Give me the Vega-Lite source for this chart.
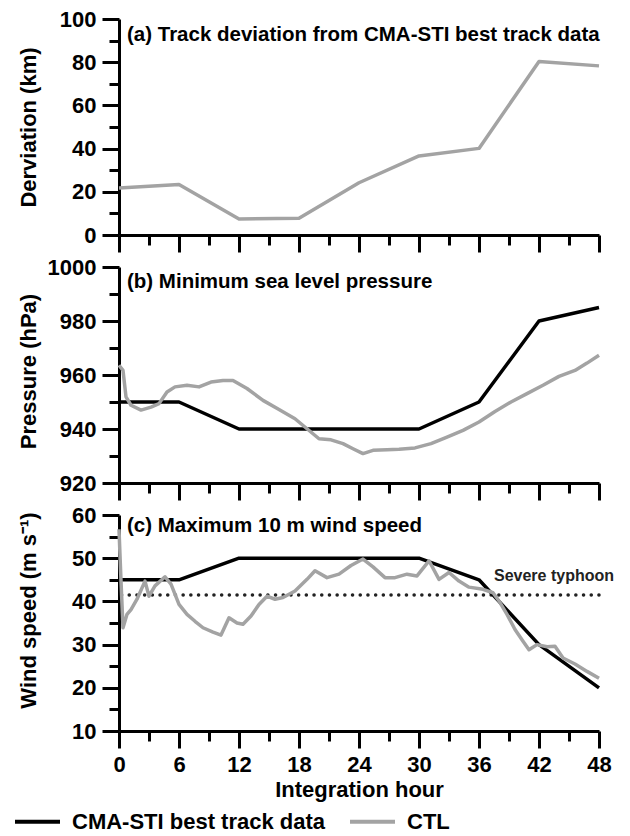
{
  "$schema": "https://vega.github.io/schema/vega-lite/v6.json",
  "background": "white",
  "padding": {"left": 13, "top": 8, "right": 5, "bottom": 0},
  "autosize": {"type": "pad"},
  "config": {
    "font": "Liberation Sans",
    "view": {"stroke": null},
    "axis": {
      "grid": false,
      "domainColor": "black",
      "domainWidth": 3,
      "tickColor": "black",
      "tickWidth": 3,
      "labelFont": "Liberation Sans",
      "labelFontSize": 22,
      "labelFontWeight": "bold",
      "labelColor": "black",
      "labelFlush": false,
      "labelOverlap": false,
      "labelPadding": 6,
      "titleFont": "Liberation Sans",
      "titleFontSize": 22,
      "titleFontWeight": "bold",
      "titleColor": "black"
    }
  },
  "datasets": {
    "track": [
      {"hour": 0, "value": 21.8, "series": "CTL"},
      {"hour": 6, "value": 23.4, "series": "CTL"},
      {"hour": 12, "value": 7.4, "series": "CTL"},
      {"hour": 18, "value": 7.7, "series": "CTL"},
      {"hour": 24, "value": 24.2, "series": "CTL"},
      {"hour": 30, "value": 36.6, "series": "CTL"},
      {"hour": 36, "value": 40.1, "series": "CTL"},
      {"hour": 42, "value": 80.3, "series": "CTL"},
      {"hour": 48, "value": 78.3, "series": "CTL"}
    ],
    "pressure": [
      {"hour": 0, "value": 950, "series": "CMA-STI best track data"},
      {"hour": 6, "value": 950, "series": "CMA-STI best track data"},
      {"hour": 12, "value": 940, "series": "CMA-STI best track data"},
      {"hour": 18, "value": 940, "series": "CMA-STI best track data"},
      {"hour": 24, "value": 940, "series": "CMA-STI best track data"},
      {"hour": 30, "value": 940, "series": "CMA-STI best track data"},
      {"hour": 36, "value": 950, "series": "CMA-STI best track data"},
      {"hour": 42, "value": 980, "series": "CMA-STI best track data"},
      {"hour": 48, "value": 985, "series": "CMA-STI best track data"},
      {"hour": 0, "value": 963.6, "series": "CTL"},
      {"hour": 0.4, "value": 961.7, "series": "CTL"},
      {"hour": 0.7, "value": 951.9, "series": "CTL"},
      {"hour": 1.2, "value": 948.8, "series": "CTL"},
      {"hour": 2.2, "value": 947.0, "series": "CTL"},
      {"hour": 3.2, "value": 948.1, "series": "CTL"},
      {"hour": 4.0, "value": 949.4, "series": "CTL"},
      {"hour": 4.8, "value": 953.7, "series": "CTL"},
      {"hour": 5.6, "value": 955.6, "series": "CTL"},
      {"hour": 6.8, "value": 956.2, "series": "CTL"},
      {"hour": 8.0, "value": 955.6, "series": "CTL"},
      {"hour": 9.2, "value": 957.4, "series": "CTL"},
      {"hour": 10.4, "value": 958.0, "series": "CTL"},
      {"hour": 11.4, "value": 958.0, "series": "CTL"},
      {"hour": 12.8, "value": 955.0, "series": "CTL"},
      {"hour": 14.4, "value": 950.6, "series": "CTL"},
      {"hour": 16.0, "value": 947.2, "series": "CTL"},
      {"hour": 17.6, "value": 943.8, "series": "CTL"},
      {"hour": 18.8, "value": 940.1, "series": "CTL"},
      {"hour": 20.0, "value": 936.4, "series": "CTL"},
      {"hour": 21.2, "value": 936.0, "series": "CTL"},
      {"hour": 22.4, "value": 934.6, "series": "CTL"},
      {"hour": 23.4, "value": 932.7, "series": "CTL"},
      {"hour": 24.4, "value": 930.9, "series": "CTL"},
      {"hour": 25.4, "value": 932.1, "series": "CTL"},
      {"hour": 26.8, "value": 932.3, "series": "CTL"},
      {"hour": 28.0, "value": 932.5, "series": "CTL"},
      {"hour": 29.6, "value": 933.0, "series": "CTL"},
      {"hour": 31.2, "value": 934.6, "series": "CTL"},
      {"hour": 32.8, "value": 937.0, "series": "CTL"},
      {"hour": 34.4, "value": 939.5, "series": "CTL"},
      {"hour": 36.0, "value": 942.6, "series": "CTL"},
      {"hour": 37.6, "value": 946.5, "series": "CTL"},
      {"hour": 39.2, "value": 950.0, "series": "CTL"},
      {"hour": 40.8, "value": 953.1, "series": "CTL"},
      {"hour": 42.4, "value": 956.2, "series": "CTL"},
      {"hour": 44.0, "value": 959.5, "series": "CTL"},
      {"hour": 45.6, "value": 961.7, "series": "CTL"},
      {"hour": 46.8, "value": 964.4, "series": "CTL"},
      {"hour": 48.0, "value": 967.3, "series": "CTL"}
    ],
    "wind": [
      {"hour": 0, "value": 45, "series": "CMA-STI best track data"},
      {"hour": 6, "value": 45, "series": "CMA-STI best track data"},
      {"hour": 12, "value": 50, "series": "CMA-STI best track data"},
      {"hour": 18, "value": 50, "series": "CMA-STI best track data"},
      {"hour": 24, "value": 50, "series": "CMA-STI best track data"},
      {"hour": 30, "value": 50, "series": "CMA-STI best track data"},
      {"hour": 36, "value": 45, "series": "CMA-STI best track data"},
      {"hour": 42, "value": 30, "series": "CMA-STI best track data"},
      {"hour": 48, "value": 20, "series": "CMA-STI best track data"},
      {"hour": 0.0, "value": 56.7, "series": "CTL"},
      {"hour": 0.2, "value": 44.7, "series": "CTL"},
      {"hour": 0.4, "value": 33.9, "series": "CTL"},
      {"hour": 0.8, "value": 37.0, "series": "CTL"},
      {"hour": 1.2, "value": 38.1, "series": "CTL"},
      {"hour": 1.8, "value": 40.5, "series": "CTL"},
      {"hour": 2.6, "value": 44.7, "series": "CTL"},
      {"hour": 3.0, "value": 41.2, "series": "CTL"},
      {"hour": 3.6, "value": 43.6, "series": "CTL"},
      {"hour": 4.6, "value": 45.7, "series": "CTL"},
      {"hour": 5.2, "value": 44.0, "series": "CTL"},
      {"hour": 6.0, "value": 39.3, "series": "CTL"},
      {"hour": 6.8, "value": 37.0, "series": "CTL"},
      {"hour": 7.6, "value": 35.4, "series": "CTL"},
      {"hour": 8.4, "value": 33.9, "series": "CTL"},
      {"hour": 9.4, "value": 32.9, "series": "CTL"},
      {"hour": 10.2, "value": 32.2, "series": "CTL"},
      {"hour": 11.0, "value": 36.2, "series": "CTL"},
      {"hour": 11.8, "value": 35.0, "series": "CTL"},
      {"hour": 12.4, "value": 34.7, "series": "CTL"},
      {"hour": 13.2, "value": 36.6, "series": "CTL"},
      {"hour": 14.0, "value": 39.3, "series": "CTL"},
      {"hour": 14.8, "value": 41.2, "series": "CTL"},
      {"hour": 15.6, "value": 40.5, "series": "CTL"},
      {"hour": 16.4, "value": 40.9, "series": "CTL"},
      {"hour": 17.6, "value": 42.4, "series": "CTL"},
      {"hour": 18.8, "value": 45.1, "series": "CTL"},
      {"hour": 19.6, "value": 47.1, "series": "CTL"},
      {"hour": 20.8, "value": 45.5, "series": "CTL"},
      {"hour": 22.0, "value": 46.3, "series": "CTL"},
      {"hour": 23.2, "value": 48.3, "series": "CTL"},
      {"hour": 24.4, "value": 49.8, "series": "CTL"},
      {"hour": 25.4, "value": 48.0, "series": "CTL"},
      {"hour": 26.6, "value": 45.5, "series": "CTL"},
      {"hour": 27.6, "value": 45.5, "series": "CTL"},
      {"hour": 28.8, "value": 46.3, "series": "CTL"},
      {"hour": 29.8, "value": 45.9, "series": "CTL"},
      {"hour": 31.0, "value": 49.4, "series": "CTL"},
      {"hour": 32.0, "value": 45.1, "series": "CTL"},
      {"hour": 33.0, "value": 46.7, "series": "CTL"},
      {"hour": 34.0, "value": 44.7, "series": "CTL"},
      {"hour": 35.0, "value": 43.3, "series": "CTL"},
      {"hour": 36.4, "value": 42.8, "series": "CTL"},
      {"hour": 37.4, "value": 42.0, "series": "CTL"},
      {"hour": 38.0, "value": 40.1, "series": "CTL"},
      {"hour": 38.8, "value": 37.0, "series": "CTL"},
      {"hour": 39.6, "value": 33.5, "series": "CTL"},
      {"hour": 40.4, "value": 30.8, "series": "CTL"},
      {"hour": 41.0, "value": 28.8, "series": "CTL"},
      {"hour": 41.8, "value": 30.0, "series": "CTL"},
      {"hour": 42.8, "value": 29.5, "series": "CTL"},
      {"hour": 43.6, "value": 29.6, "series": "CTL"},
      {"hour": 44.4, "value": 26.9, "series": "CTL"},
      {"hour": 45.6, "value": 25.5, "series": "CTL"},
      {"hour": 46.8, "value": 23.8, "series": "CTL"},
      {"hour": 48.0, "value": 22.2, "series": "CTL"}
    ]
  },
  "spacing": 32,
  "bounds": "flush",
  "resolve": {"scale": {"color": "shared"}, "legend": {"color": "shared"}},
  "vconcat": [
    {
      "width": 480,
      "height": 216,
      "resolve": {"axis": {"x": "independent", "y": "independent"}},
      "layer": [
        {
          "data": {"name": "track"},
          "mark": {"type": "line", "strokeWidth": 3.5, "strokeJoin": "round"},
          "encoding": {
            "x": {"field": "hour", "type": "quantitative", "scale": {"domain": [0, 48], "nice": false, "zero": false},
                  "axis": {"orient": "bottom", "values": [0, 6, 12, 18, 24, 30, 36, 42, 48], "labels": false, "tickSize": 17, "title": null}},
            "y": {"field": "value", "type": "quantitative", "scale": {"domain": [0, 100], "nice": false, "zero": false},
                  "axis": {"orient": "left", "values": [0, 20, 40, 60, 80, 100], "format": "d", "tickSize": 17, "title": "Derviation (km)", "titleX": -79, "titleY": 108, "titleAngle": 270, "titleBaseline": "bottom", "titleAlign": "center"}},
            "color": {"field": "series", "type": "nominal",
                      "scale": {"domain": ["CMA-STI best track data", "CTL"], "range": ["#000000", "#a3a3a3"]},
                      "legend": {"orient": "none", "legendX": -106, "legendY": 778, "direction": "horizontal", "title": null, "symbolType": "stroke", "symbolSize": 2025, "symbolStrokeWidth": 4, "labelFontSize": 22, "labelFontWeight": "bold", "labelColor": "black", "labelOffset": 10, "labelLimit": 400, "columnPadding": 16, "padding": 0}}
          }
        },
        {
          "data": {"name": "track"},
          "mark": {"type": "line", "strokeOpacity": 0},
          "encoding": {
            "x": {"field": "hour", "type": "quantitative", "axis": {"orient": "bottom", "values": [3, 9, 15, 21, 27, 33, 39, 45], "labels": false, "domain": false, "tickSize": 10, "title": null}},
            "y": {"field": "value", "type": "quantitative", "axis": {"orient": "left", "values": [10, 30, 50, 70, 90], "labels": false, "domain": false, "tickSize": 10, "title": null}}
          }
        },
        {
          "data": {"values": [{}]},
          "mark": {"type": "text", "align": "left", "baseline": "middle", "fontSize": 20.5, "fontWeight": "bold", "color": "black"},
          "encoding": {
            "x": {"datum": 0.8, "type": "quantitative", "axis": null},
            "y": {"datum": 92.8, "type": "quantitative", "axis": null},
            "text": {"value": "(a) Track deviation from CMA-STI best track data"}
          }
        }
      ]
    },
    {
      "width": 480,
      "height": 216,
      "resolve": {"axis": {"x": "independent", "y": "independent"}},
      "layer": [
        {
          "data": {"name": "pressure"},
          "mark": {"type": "line", "strokeWidth": 3.5, "strokeJoin": "round"},
          "encoding": {
            "x": {"field": "hour", "type": "quantitative", "scale": {"domain": [0, 48], "nice": false, "zero": false},
                  "axis": {"orient": "bottom", "values": [0, 6, 12, 18, 24, 30, 36, 42, 48], "labels": false, "tickSize": 17, "title": null}},
            "y": {"field": "value", "type": "quantitative", "scale": {"domain": [920, 1000], "nice": false, "zero": false},
                  "axis": {"orient": "left", "values": [920, 940, 960, 980, 1000], "format": "d", "tickSize": 17, "title": "Pressure (hPa)", "titleX": -79, "titleY": 104, "titleAngle": 270, "titleBaseline": "bottom", "titleAlign": "center"}},
            "color": {"field": "series", "type": "nominal",
                      "scale": {"domain": ["CMA-STI best track data", "CTL"], "range": ["#000000", "#a3a3a3"]},
                      "legend": {"orient": "none", "legendX": -106, "legendY": 778, "direction": "horizontal", "title": null, "symbolType": "stroke", "symbolSize": 2025, "symbolStrokeWidth": 4, "labelFontSize": 22, "labelFontWeight": "bold", "labelColor": "black", "labelOffset": 10, "labelLimit": 400, "columnPadding": 16, "padding": 0}}
          }
        },
        {
          "data": {"name": "pressure"},
          "mark": {"type": "line", "strokeOpacity": 0},
          "encoding": {
            "x": {"field": "hour", "type": "quantitative", "axis": {"orient": "bottom", "values": [3, 9, 15, 21, 27, 33, 39, 45], "labels": false, "domain": false, "tickSize": 10, "title": null}},
            "y": {"field": "value", "type": "quantitative", "axis": {"orient": "left", "values": [930, 950, 970, 990], "labels": false, "domain": false, "tickSize": 10, "title": null}},
            "detail": {"field": "series"}
          }
        },
        {
          "data": {"values": [{}]},
          "mark": {"type": "text", "align": "left", "baseline": "middle", "fontSize": 20.5, "fontWeight": "bold", "color": "black"},
          "encoding": {
            "x": {"datum": 0.8, "type": "quantitative", "axis": null},
            "y": {"datum": 994.4, "type": "quantitative", "axis": null},
            "text": {"value": "(b) Minimum sea level pressure"}
          }
        }
      ]
    },
    {
      "width": 480,
      "height": 216,
      "resolve": {"axis": {"x": "independent", "y": "independent"}},
      "layer": [
        {
          "data": {"values": [{}]},
          "mark": {"type": "rule", "strokeWidth": 3.5, "strokeDash": [0.1, 7.6], "strokeCap": "round", "color": "#222222"},
          "encoding": {
            "y": {"datum": 41.5, "type": "quantitative", "axis": null}
          }
        },
        {
          "data": {"name": "wind"},
          "mark": {"type": "line", "strokeWidth": 3.5, "strokeJoin": "round"},
          "encoding": {
            "x": {"field": "hour", "type": "quantitative", "scale": {"domain": [0, 48], "nice": false, "zero": false},
                  "axis": {"orient": "bottom", "values": [0, 6, 12, 18, 24, 30, 36, 42, 48], "tickSize": 17, "title": "Integration hour", "titlePadding": 4}},
            "y": {"field": "value", "type": "quantitative", "scale": {"domain": [10, 60], "nice": false, "zero": false},
                  "axis": {"orient": "left", "values": [10, 20, 30, 40, 50, 60], "tickSize": 17, "title": "Wind speed (m s⁻¹)", "titleX": -79, "titleY": 95, "titleAngle": 270, "titleBaseline": "bottom", "titleAlign": "center"}},
            "color": {"field": "series", "type": "nominal",
                      "scale": {"domain": ["CMA-STI best track data", "CTL"], "range": ["#000000", "#a3a3a3"]},
                      "legend": {"orient": "none", "legendX": -106, "legendY": 778, "direction": "horizontal", "title": null, "symbolType": "stroke", "symbolSize": 2025, "symbolStrokeWidth": 4, "labelFontSize": 22, "labelFontWeight": "bold", "labelColor": "black", "labelOffset": 10, "labelLimit": 400, "columnPadding": 16, "padding": 0}}
          }
        },
        {
          "data": {"name": "wind"},
          "mark": {"type": "line", "strokeOpacity": 0},
          "encoding": {
            "x": {"field": "hour", "type": "quantitative", "axis": {"orient": "bottom", "values": [3, 9, 15, 21, 27, 33, 39, 45], "labels": false, "domain": false, "tickSize": 10, "title": null}},
            "y": {"field": "value", "type": "quantitative", "axis": {"orient": "left", "values": [15, 25, 35, 45, 55], "labels": false, "domain": false, "tickSize": 10, "title": null}},
            "detail": {"field": "series"}
          }
        },
        {
          "data": {"values": [{}]},
          "mark": {"type": "text", "align": "left", "baseline": "middle", "fontSize": 20.5, "fontWeight": "bold", "color": "black"},
          "encoding": {
            "x": {"datum": 0.8, "type": "quantitative", "axis": null},
            "y": {"datum": 57.4, "type": "quantitative", "axis": null},
            "text": {"value": "(c) Maximum 10 m wind speed"}
          }
        },
        {
          "data": {"values": [{}]},
          "mark": {"type": "text", "align": "left", "baseline": "middle", "fontSize": 16, "fontWeight": "bold", "color": "#222222"},
          "encoding": {
            "x": {"datum": 37.5, "type": "quantitative", "axis": null},
            "y": {"datum": 45.8, "type": "quantitative", "axis": null},
            "text": {"value": "Severe typhoon"}
          }
        }
      ]
    }
  ]
}
